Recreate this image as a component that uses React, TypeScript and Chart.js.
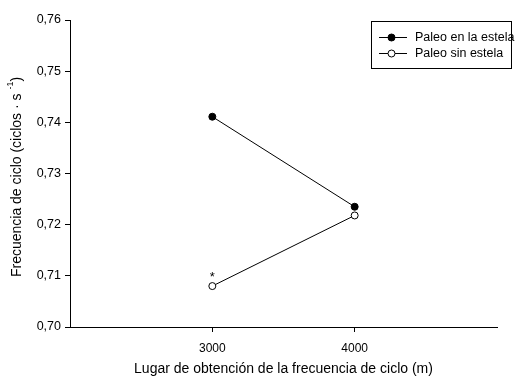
import React, { useEffect, useRef } from "react";
import { Chart, registerables } from "chart.js";

Chart.register(...registerables);

const sites = [3000, 4000];
const withWake = [0.7411, 0.7235];
const withoutWake = [0.708, 0.7218];
const seriesNames = ["Paleo en la estela", "Paleo sin estela"];
const xTicks = [3000, 4000];
const significant = [true, false];
const xTitle = "Lugar de obtención de la frecuencia de ciclo (m)";
const yTitleMain = "Frecuencia de ciclo (ciclos · s ";
const yTitleSup = "-1";
const yTitleEnd = ")";

const FONT = "'Liberation Sans', Arial, sans-serif";

const overlay = {
  id: "overlay",
  afterDraw(chart: any) {
    const ctx = chart.ctx;
    const xs = chart.scales.x;
    const ys = chart.scales.y;
    ctx.save();
    // asterisks
    ctx.fillStyle = "#000";
    ctx.font = `13px ${FONT}`;
    ctx.textAlign = "center";
    ctx.textBaseline = "middle";
    sites.forEach((s, i) => {
      if (significant[i]) {
        ctx.fillText("*", xs.getPixelForValue(s), ys.getPixelForValue(withoutWake[i]) - 9);
      }
    });
    // y title with superscript
    ctx.save();
    ctx.translate(17, 177);
    ctx.rotate(-Math.PI / 2);
    ctx.font = `14px ${FONT}`;
    const w1 = ctx.measureText(yTitleMain).width;
    ctx.font = `9px ${FONT}`;
    const w2 = ctx.measureText(yTitleSup).width;
    ctx.font = `14px ${FONT}`;
    const w3 = ctx.measureText(yTitleEnd).width;
    const total = w1 + w2 + w3;
    let x0 = -total / 2;
    ctx.textAlign = "left";
    ctx.textBaseline = "middle";
    ctx.fillText(yTitleMain, x0, 0);
    x0 += w1;
    ctx.font = `9px ${FONT}`;
    ctx.fillText(yTitleSup, x0, -6);
    x0 += w2;
    ctx.font = `14px ${FONT}`;
    ctx.fillText(yTitleEnd, x0, 0);
    ctx.restore();
    // legend
    const bx = 371.5, by = 21.5, bw = 140, bh = 47;
    ctx.strokeStyle = "#000";
    ctx.lineWidth = 1;
    ctx.fillStyle = "#fff";
    ctx.fillRect(bx, by, bw, bh);
    ctx.strokeRect(bx, by, bw, bh);
    const rows = [37, 53];
    const fills = ["#000", "#fff"];
    rows.forEach((ry, i) => {
      ctx.beginPath();
      ctx.moveTo(379, ry + 0.5);
      ctx.lineTo(407, ry + 0.5);
      ctx.stroke();
      ctx.beginPath();
      ctx.arc(391.5, ry + 0.5, 3.5, 0, Math.PI * 2);
      ctx.fillStyle = fills[i];
      ctx.fill();
      ctx.stroke();
      ctx.fillStyle = "#000";
      ctx.font = `12.5px ${FONT}`;
      ctx.textAlign = "left";
      ctx.textBaseline = "middle";
      ctx.fillText(seriesNames[i], 415, ry + 0.5);
    });
    ctx.restore();
  },
};

export default function App() {
  const ref = useRef<HTMLCanvasElement>(null);
  useEffect(() => {
    document.body.style.margin = "0";
    const chart = new Chart(ref.current as HTMLCanvasElement, {
      type: "line",
      data: {
        datasets: [
          {
            label: seriesNames[0],
            data: sites.map((s, i) => ({ x: s, y: withWake[i] })),
            borderColor: "#000",
            borderWidth: 1,
            pointRadius: 3.5,
            pointBackgroundColor: "#000",
            pointBorderColor: "#000",
            pointBorderWidth: 1,
          },
          {
            label: seriesNames[1],
            data: sites.map((s, i) => ({ x: s, y: withoutWake[i] })),
            borderColor: "#000",
            borderWidth: 1,
            pointRadius: 3.5,
            pointBackgroundColor: "#fff",
            pointBorderColor: "#000",
            pointBorderWidth: 1,
          },
        ],
      },
      options: {
        animation: false,
        responsive: false,
        layout: { padding: { top: 20, right: 18, left: 0, bottom: 0 } },
        plugins: { legend: { display: false }, tooltip: { enabled: false } },
        scales: {
          x: {
            type: "linear",
            min: 2000,
            max: 5000,
            afterBuildTicks: (s: any) => {
              s.ticks = xTicks.map((v) => ({ value: v }));
            },
            afterFit: (s: any) => {
              s.height = 51;
            },
            grid: { drawOnChartArea: false, drawTicks: true, tickLength: 5, tickColor: "#000" },
            border: { color: "#000", width: 1 },
            ticks: {
              color: "#000",
              font: { family: FONT, size: 12 },
              padding: 9,
              maxRotation: 0,
              callback: (v: any) => String(v),
            },
            title: {
              display: true,
              text: xTitle,
              color: "#000",
              font: { family: FONT, size: 14 },
              padding: { top: 0, bottom: 0 },
            },
          },
          y: {
            min: 0.7,
            max: 0.76,
            afterFit: (s: any) => {
              s.width = 70;
            },
            grid: { drawOnChartArea: false, drawTicks: true, tickLength: 5, tickColor: "#000" },
            border: { color: "#000", width: 1 },
            ticks: {
              stepSize: 0.01,
              color: "#000",
              font: { family: FONT, size: 12.5 },
              padding: 4,
              callback: (v: any) => Number(v).toFixed(2).replace(".", ","),
            },
          },
        },
      },
      plugins: [overlay],
    } as any);
    return () => chart.destroy();
  }, []);
  return <canvas ref={ref} width={515} height={378} style={{ display: "block" }} />;
}
